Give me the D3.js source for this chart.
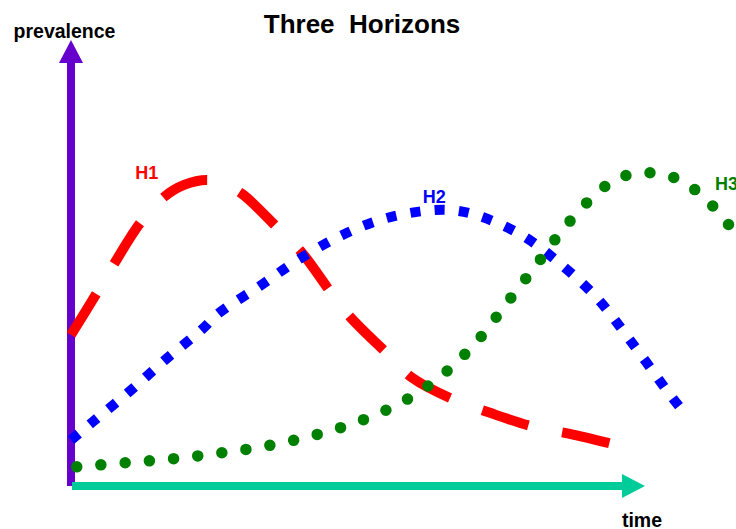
<!DOCTYPE html>
<html>
<head>
<meta charset="utf-8">
<script src="https://cdn.jsdelivr.net/npm/d3@7"></script>
<style>
html,body{margin:0;padding:0;background:#fff;}
svg{display:block;}
text{font-family:"Liberation Sans",Arial,Helvetica,sans-serif;font-weight:bold;}
</style>
</head>
<body>
<svg id="chart" width="736" height="529"></svg>
<script>
// time (0-100 along the x arrow), prevalence (0-100 along the y arrow)
const h1Time  = [0, 4.5, 7.5, 12.2, 16.2, 19.7, 23.7, 26.2, 29.8, 35.8, 40.3, 45.0, 48.5, 55.0, 59.5, 66.8, 73.0, 80.8, 86.9, 95.1];
const h1Value = [33.9, 43.3, 49.8, 59.2, 64.8, 67.5, 68.6, 67.9, 65.5, 58.1, 52.2, 43.9, 38.1, 29.8, 24.2, 19.3, 16.4, 13.2, 11.7, 9.2];

const h2Time  = [0, 3.7, 10.1, 16.6, 22.9, 25.8, 33.2, 39.8, 47.3, 55.0, 63.4, 67.4, 71.7, 79.1, 85.7, 91.6, 97.4, 104.4, 106.5];
const h2Value = [10.3, 14.3, 21.1, 28.5, 35.2, 38.8, 45.1, 50.9, 56.3, 60.1, 61.9, 61.7, 60.3, 55.8, 49.3, 42.2, 32.7, 20.4, 17.0];

const h3Time  = [1.0, 9.4, 17.6, 26.0, 34.2, 42.4, 50.4, 58.1, 64.9, 70.9, 76.1, 81.2, 86.2, 92.0, 95.5, 99.5, 103.8, 107.5, 110.8, 113.6, 116.1, 119.2];
const h3Value = [4.3, 5.2, 6.1, 7.4, 9.0, 11.4, 14.6, 19.1, 25.1, 32.7, 41.3, 49.8, 58.3, 66.1, 69.1, 70.2, 69.7, 67.5, 64.1, 60.1, 56.1, 50.7];

const seriesNames = ["H1", "H2", "H3"];
const labelTime  = [11.2, 61.3, 112.2];
const labelValue = [68.8, 63.5, 66.4];

const titleText = "Three\u00a0\u00a0Horizons";
const yLabel = "prevalence";
const xLabel = "time";

const svg = d3.select("#chart");
const x = d3.scaleLinear().domain([0, 100]).range([71, 645]);
const y = d3.scaleLinear().domain([0, 100]).range([486, 40]);

// axes as arrows
const purple = "#6600cc", teal = "#00cc99";
svg.append("line")
  .attr("x1", x(0)).attr("y1", y(0)).attr("x2", x(0)).attr("y2", y(0) - (y(0) - y(100)) + 23)
  .attr("stroke", purple).attr("stroke-width", 8);
svg.append("path")
  .attr("d", `M${x(0)-12},${y(100)+23}L${x(0)+12},${y(100)+23}L${x(0)},${y(100)}Z`)
  .attr("fill", purple);
svg.append("line")
  .attr("x1", x(0) + 1).attr("y1", y(0)).attr("x2", x(100) - 23).attr("y2", y(0))
  .attr("stroke", teal).attr("stroke-width", 8);
svg.append("path")
  .attr("d", `M${x(100)-23},${y(0)-12}L${x(100)-23},${y(0)+12}L${x(100)},${y(0)}Z`)
  .attr("fill", teal);

const line = d3.line().x(d => x(d[0])).y(d => y(d[1])).curve(d3.curveCatmullRom.alpha(0.5));

const series = [
  {t: h1Time, v: h1Value, color: "#ff0000", width: 10, dash: "48,35", cap: "butt"},
  {t: h2Time, v: h2Value, color: "#0000ff", width: 10, dash: "10,14.3", cap: "butt"},
  {t: h3Time, v: h3Value, color: "#008000", width: 11.5, dash: "0,24.3", cap: "round"}
];

series.forEach(s => {
  svg.append("path")
    .datum(s.t.map((t, i) => [t, s.v[i]]))
    .attr("d", line)
    .attr("fill", "none")
    .attr("stroke", s.color)
    .attr("stroke-width", s.width)
    .attr("stroke-dasharray", s.dash)
    .attr("stroke-linecap", s.cap);
});

seriesNames.forEach((n, i) => {
  svg.append("text")
    .attr("x", x(labelTime[i])).attr("y", y(labelValue[i]))
    .attr("fill", series[i].color)
    .attr("font-size", 18)
    .text(n);
});

svg.append("text").attr("x", 362).attr("y", 33).attr("text-anchor", "middle")
  .attr("font-size", 26).attr("fill", "#000").text(titleText);
svg.append("text").attr("x", 64.5).attr("y", 38).attr("text-anchor", "middle")
  .attr("font-size", 19.5).attr("fill", "#000").text(yLabel);
svg.append("text").attr("x", 642).attr("y", 527).attr("text-anchor", "middle")
  .attr("font-size", 19.5).attr("fill", "#000").text(xLabel);
</script>
</body>
</html>
